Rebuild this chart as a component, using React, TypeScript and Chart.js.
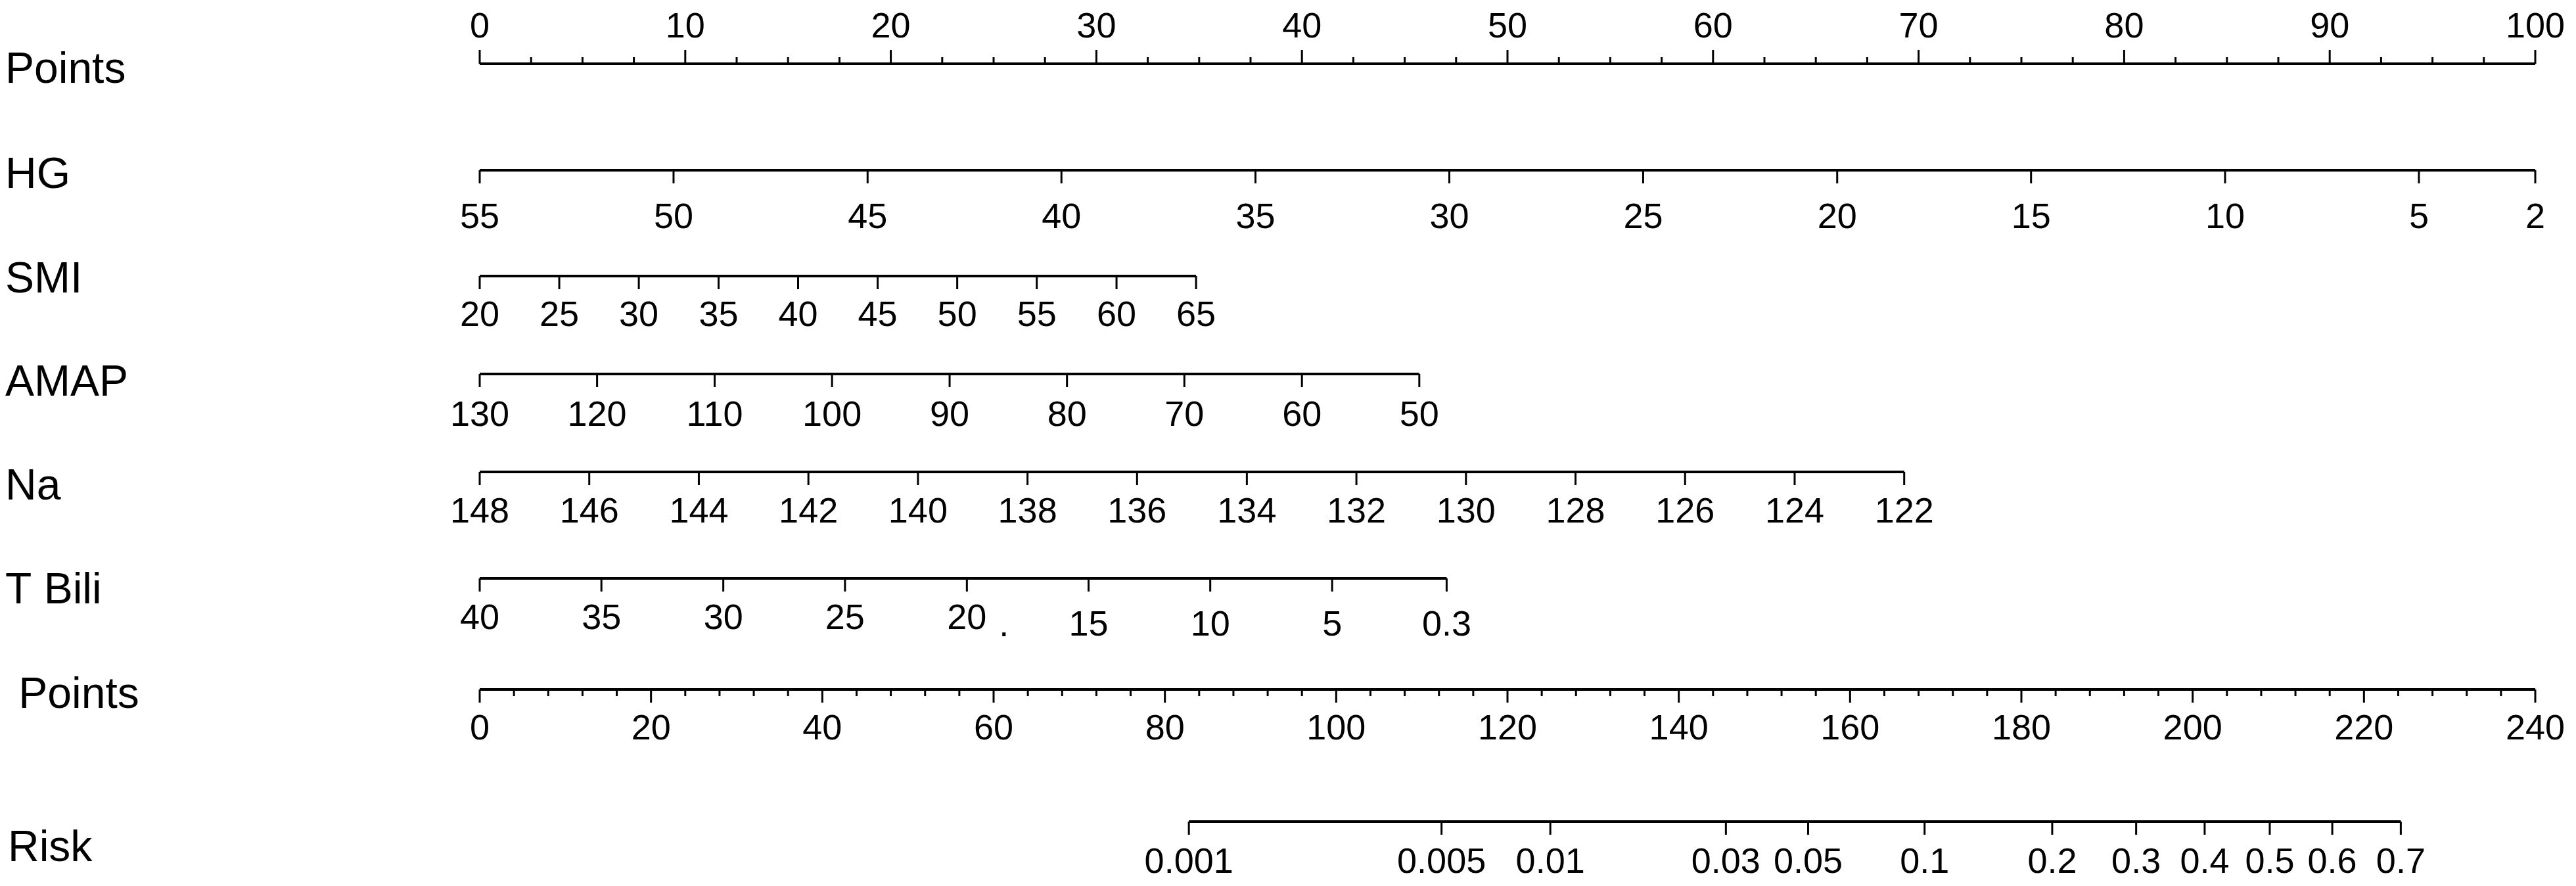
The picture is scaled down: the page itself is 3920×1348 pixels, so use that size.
import React, { useEffect, useRef } from "react";
import { Chart, registerables } from "chart.js";

Chart.register(...registerables);

// ---------- data ----------
const POINTS_LABELS = [0, 10, 20, 30, 40, 50, 60, 70, 80, 90, 100];

const HG_LABELS = ["55", "50", "45", "40", "35", "30", "25", "20", "15", "10", "5", "2"];
const HG_POINTS = [0, 9.43, 18.87, 28.3, 37.74, 47.17, 56.6, 66.04, 75.47, 84.91, 94.34, 100];

const SMI_LABELS = ["20", "25", "30", "35", "40", "45", "50", "55", "60", "65"];
const SMI_POINTS = [0, 3.87, 7.74, 11.62, 15.49, 19.36, 23.23, 27.1, 30.98, 34.85];

const AMAP_LABELS = ["130", "120", "110", "100", "90", "80", "70", "60", "50"];
const AMAP_POINTS = [0, 5.71, 11.43, 17.14, 22.86, 28.57, 34.28, 40.0, 45.71];

const NA_LABELS = ["148", "146", "144", "142", "140", "138", "136", "134", "132", "130", "128", "126", "124", "122"];
const NA_POINTS = [0, 5.33, 10.66, 15.99, 21.32, 26.65, 31.98, 37.32, 42.65, 47.98, 53.31, 58.64, 63.97, 69.3];

const TBILI_LABELS = ["40", "35", "30", "25", "20", "15", "10", "5", "0.3"];
const TBILI_POINTS = [0, 5.92, 11.85, 17.77, 23.7, 29.62, 35.54, 41.47, 47.04];
const TBILI_STRAY_MARK_POINTS = 25.5; // the small "." printed under the axis

const TOTAL_LABELS = [0, 20, 40, 60, 80, 100, 120, 140, 160, 180, 200, 220, 240];

const RISK_LABELS = ["0.001", "0.005", "0.01", "0.03", "0.05", "0.1", "0.2", "0.3", "0.4", "0.5", "0.6", "0.7"];
const RISK_TOTAL_POINTS = [82.8, 112.3, 125.0, 145.5, 155.1, 168.7, 183.6, 193.4, 201.4, 209.0, 216.3, 224.3];

const ROW_NAMES = ["Points", "HG", "SMI", "AMAP", "Na", "T Bili", " Points", "Risk"];

// ---------- layout / style ----------
const W = 3920;
const H = 1348;
const PAD_LEFT = 730;
const PAD_RIGHT = 62;
const ROW_LINE_Y = [97, 259, 420, 569, 718, 880, 1049, 1250];
const ROW_NAME_BASELINE = [126, 286, 445, 602, 760, 918, 1077, 1310];
const ROW_NAME_X = [8, 8, 8, 8, 8, 8, 10, 12];
const TICK_LABEL_BASELINE = [57, 347, 496, 648, 795, 957, 1125, 1328];
const TBILI_LABEL_DROP = [0, 0, 0, 0, 0, 10, 10, 10, 10];
const NAME_FONT = "66px 'Liberation Sans', Arial, sans-serif";
const TICK_FONT = "54px 'Liberation Sans', Arial, sans-serif";
const AXIS_WIDTH = 4;
const TICK_WIDTH = 3;
const MAJOR_TICK = 20;
const MINOR_TICK = 10;

type RowSpec = {
  scale: "x" | "x2";
  pos: number[];
  labels: string[];
  drops?: number[];
};

const ROWS: RowSpec[] = [
  { scale: "x", pos: POINTS_LABELS, labels: POINTS_LABELS.map(String) },
  { scale: "x", pos: HG_POINTS, labels: HG_LABELS },
  { scale: "x", pos: SMI_POINTS, labels: SMI_LABELS },
  { scale: "x", pos: AMAP_POINTS, labels: AMAP_LABELS },
  { scale: "x", pos: NA_POINTS, labels: NA_LABELS },
  { scale: "x", pos: TBILI_POINTS, labels: TBILI_LABELS, drops: TBILI_LABEL_DROP },
  { scale: "x2", pos: TOTAL_LABELS, labels: TOTAL_LABELS.map(String) },
  { scale: "x2", pos: RISK_TOTAL_POINTS, labels: RISK_LABELS },
];

const nomogramPlugin = {
  id: "nomogram",
  afterDatasetsDraw(chart: any) {
    const ctx = chart.ctx as CanvasRenderingContext2D;
    const ys = chart.scales.y;
    ctx.save();
    ctx.fillStyle = "#000";
    ctx.strokeStyle = "#000";
    ctx.lineCap = "butt";

    // row names
    ctx.font = NAME_FONT;
    ctx.textAlign = "left";
    ctx.textBaseline = "alphabetic";
    ROW_NAMES.forEach((n, i) => {
      ctx.fillText(n, ROW_NAME_X[i], ys.getPixelForValue(ROW_NAME_BASELINE[i]));
    });

    ctx.font = TICK_FONT;
    ctx.textAlign = "center";
    ctx.lineWidth = TICK_WIDTH;

    const vline = (x: number, y0: number, y1: number) => {
      ctx.beginPath();
      ctx.moveTo(x, y0);
      ctx.lineTo(x, y1);
      ctx.stroke();
    };

    ROWS.forEach((row, i) => {
      const sc = chart.scales[row.scale];
      const ly = ys.getPixelForValue(ROW_LINE_Y[i]);
      const up = i === 0;
      // minor ticks on the two points scales
      if (i === 0) {
        for (let v = 2.5; v < 100; v += 2.5) {
          if (v % 10 !== 0) vline(sc.getPixelForValue(v), ly, ly - MINOR_TICK);
        }
      }
      if (i === 6) {
        for (let v = 4; v < 240; v += 4) {
          if (v % 20 !== 0) vline(sc.getPixelForValue(v), ly, ly + MINOR_TICK);
        }
      }
      row.pos.forEach((p, k) => {
        const px = sc.getPixelForValue(p);
        vline(px, ly, up ? ly - MAJOR_TICK - 1 : ly + MAJOR_TICK);
        const drop = row.drops ? row.drops[k] : 0;
        ctx.fillText(row.labels[k], px, ys.getPixelForValue(TICK_LABEL_BASELINE[i] + drop));
      });
    });

    // stray "." mark under the T Bili axis
    ctx.fillText(".", chart.scales.x.getPixelForValue(TBILI_STRAY_MARK_POINTS), ys.getPixelForValue(968));
    ctx.restore();
  },
};

function axisLine(pos: number[], rowIndex: number, scaleId: "x" | "x2") {
  const xs = pos.length ? [Math.min(...pos), Math.max(...pos)] : [0, 0];
  return {
    type: "line" as const,
    xAxisID: scaleId,
    data: xs.map((x) => ({ x, y: ROW_LINE_Y[rowIndex] })),
    borderColor: "#000",
    borderWidth: AXIS_WIDTH,
    pointRadius: 0,
    showLine: true,
    clip: false as any,
    borderCapStyle: "butt" as const,
  };
}

export default function App() {
  const ref = useRef<HTMLCanvasElement | null>(null);
  useEffect(() => {
    if (!ref.current) return;
    const datasets = ROWS.map((r, i) => axisLine(r.pos, i, r.scale));
    const chart = new Chart(ref.current, {
      type: "scatter",
      data: { datasets: datasets as any },
      options: {
        animation: false,
        responsive: false,
        maintainAspectRatio: false,
        layout: { padding: { left: PAD_LEFT, right: PAD_RIGHT, top: 0, bottom: 0 } },
        plugins: { legend: { display: false }, tooltip: { enabled: false } },
        events: [],
        scales: {
          x: { type: "linear", min: 0, max: 100, display: false },
          x2: { type: "linear", min: 0, max: 240, display: false },
          y: { type: "linear", min: 0, max: H, reverse: true, display: false },
        },
      },
      plugins: [nomogramPlugin],
    });
    return () => chart.destroy();
  }, []);
  return (
    <div style={{ position: "fixed", left: 0, top: 0, width: W, height: H, background: "#fff" }}>
      <canvas ref={ref} width={W} height={H} style={{ display: "block", width: W, height: H }} />
    </div>
  );
}
